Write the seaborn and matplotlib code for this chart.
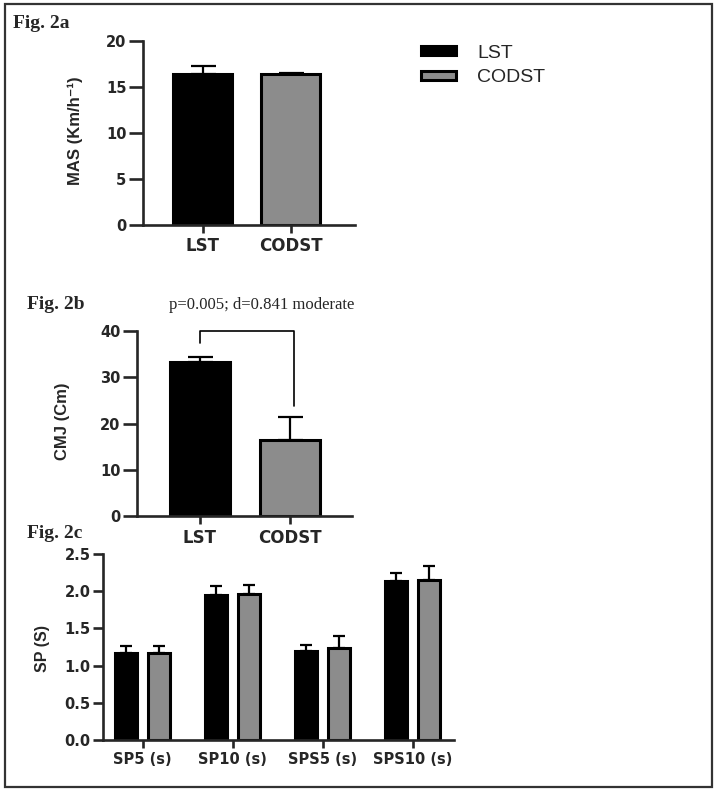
"""
Fig. 2: MAS, CMJ and sprint times for LST vs CODST groups.
"""

import matplotlib
matplotlib.use("Agg")
import matplotlib.pyplot as plt
from matplotlib.patches import Rectangle
import numpy as np
import pandas as pd
import seaborn as sns

# ---- data ----
groups = ["LST", "CODST"]
group_colors = ["#000000", "#8c8c8c"]

mas_mean = [16.4, 16.4]
mas_sd = [0.9, 0.1]

cmj_mean = [33.3, 16.4]
cmj_sd = [1.1, 5.1]

sprint_tests = ["SP5 (s)", "SP10 (s)", "SPS5 (s)", "SPS10 (s)"]
sp_lst = [1.17, 1.95, 1.19, 2.14]
sp_lst_sd = [0.09, 0.12, 0.09, 0.10]
sp_codst = [1.17, 1.96, 1.24, 2.15]
sp_codst_sd = [0.09, 0.12, 0.16, 0.19]

p_text = "p=0.005; d=0.841 moderate"

# ---- style ----
sns.set_theme(style="ticks")
plt.rcParams["font.family"] = ["DejaVu Sans"]
plt.rcParams["axes.linewidth"] = 1.9

TICK_FONT = dict(family="DejaVu Sans", weight="bold")
NARROW = ["Liberation Sans Narrow", "Liberation Sans", "DejaVu Sans"]
SERIF = ["Liberation Serif", "DejaVu Serif"]


def style_axes(ax, ytick_len, xtick_fs, ytick_fs):
    sns.despine(ax=ax)
    ax.tick_params(axis="y", length=ytick_len, width=1.9, pad=2)
    ax.tick_params(axis="x", length=6, width=1.9, pad=3)
    for lab in ax.get_xticklabels():
        lab.set_fontproperties(dict(TICK_FONT, size=xtick_fs))
    for lab in ax.get_yticklabels():
        lab.set_fontproperties(dict(TICK_FONT, size=ytick_fs))
    ax.set_xlabel("")


def add_up_errors(ax, sds_per_hue, capsize):
    # one-sided (upper) error bars on top of each seaborn bar
    for container, sds in zip(ax.containers, sds_per_hue):
        xs = [b.get_x() + b.get_width() / 2 for b in container]
        hs = [b.get_height() for b in container]
        ax.errorbar(xs, hs, yerr=[np.zeros(len(sds)), sds], fmt="none",
                    ecolor="black", elinewidth=1.6, capsize=capsize,
                    capthick=1.6, zorder=1)


fig = plt.figure(figsize=(7.15, 7.9), dpi=100)

# ---- Fig. 2a ----
ax_a = fig.add_axes([0.200, 0.7152, 0.2965, 0.2329])
df_a = pd.DataFrame({"group": groups, "value": mas_mean})
sns.barplot(data=df_a, x="group", y="value", hue="group", palette=group_colors,
            width=0.67, edgecolor="black", linewidth=2.2, errorbar=None,
            legend=False, ax=ax_a)
add_up_errors(ax_a, [[s] for s in mas_sd], capsize=9)
ax_a.set_ylim(0, 20)
ax_a.set_yticks([0, 5, 10, 15, 20])
ax_a.set_xlim(-0.68, 1.73)
style_axes(ax_a, 10, 12, 10.5)
ax_a.set_ylabel("MAS (Km/h⁻¹)", family=NARROW, weight="bold", size=12)
ax_a.yaxis.set_label_coords(-0.285, 0.51)

# ---- Fig. 2b ----
ax_b = fig.add_axes([0.1916, 0.3468, 0.3007, 0.2342])
df_b = pd.DataFrame({"group": groups, "value": cmj_mean})
sns.barplot(data=df_b, x="group", y="value", hue="group", palette=group_colors,
            width=0.67, edgecolor="black", linewidth=2.2, errorbar=None,
            legend=False, ax=ax_b)
add_up_errors(ax_b, [[s] for s in cmj_sd], capsize=9)
ax_b.set_ylim(0, 40)
ax_b.set_yticks([0, 10, 20, 30, 40])
ax_b.set_xlim(-0.70, 1.69)
style_axes(ax_b, 10, 12, 10.5)
ax_b.set_ylabel("CMJ (Cm)", family=NARROW, weight="bold", size=12)
ax_b.yaxis.set_label_coords(-0.31, 0.51)

# significance bracket
ax_b.plot([0, 0, 1.05, 1.05], [37.4, 40.0, 40.0, 23.8], color="black",
          lw=1.2, clip_on=False)
fig.text(261.5 / 715, 1 - 305 / 790, p_text, ha="center", va="center",
         family=SERIF, size=12)

# ---- Fig. 2c ----
ax_c = fig.add_axes([0.144, 0.0633, 0.491, 0.2354])
df_c = pd.DataFrame({
    "test": sprint_tests * 2,
    "group": [groups[0]] * len(sprint_tests) + [groups[1]] * len(sprint_tests),
    "value": sp_lst + sp_codst,
})
sns.barplot(data=df_c, x="test", y="value", hue="group", palette=group_colors,
            width=0.73, gap=0.33, edgecolor="black", linewidth=2.2,
            errorbar=None, ax=ax_c)
add_up_errors(ax_c, [sp_lst_sd, sp_codst_sd], capsize=4.5)
ax_c.set_ylim(0, 2.5)
ax_c.set_yticks([0.0, 0.5, 1.0, 1.5, 2.0, 2.5])
ax_c.set_yticklabels([f"{v:.1f}" for v in ax_c.get_yticks()])
ax_c.set_xlim(-0.44, 3.46)
style_axes(ax_c, 7, 10.5, 10.5)
ax_c.set_ylabel("SP (S)", family=["Liberation Sans", "DejaVu Sans"],
                weight="bold", size=11.5)
ax_c.yaxis.set_label_coords(-0.151, 0.49)

# shared legend (top right)
handles, labels = ax_c.get_legend_handles_labels()
ax_c.get_legend().remove()
fig.legend(handles, labels, loc="center left",
           bbox_to_anchor=(421 / 715, 1 - 65.5 / 790), frameon=False,
           prop=dict(family="Liberation Sans", size=14),
           handlelength=1.8, handleheight=0.38, handletextpad=1.1,
           labelspacing=0.4, borderaxespad=0, borderpad=0)

# panel tags
fig.text(13 / 715, 1 - 23.5 / 790, "Fig. 2a", family=SERIF, weight="bold",
         size=14, va="center", ha="left")
fig.text(27 / 715, 1 - 304 / 790, "Fig. 2b", family=SERIF, weight="bold",
         size=14, va="center", ha="left")
fig.text(27 / 715, 1 - 534 / 790, "Fig. 2c", family=SERIF, weight="bold",
         size=14, va="center", ha="left")

# outer frame
fig.patches.append(Rectangle((5 / 715, 3 / 790), 707 / 715, 783 / 790,
                             transform=fig.transFigure, fill=False,
                             edgecolor="#333333", lw=1.6))

fig.savefig("out.png", dpi=100)
plt.close(fig)
